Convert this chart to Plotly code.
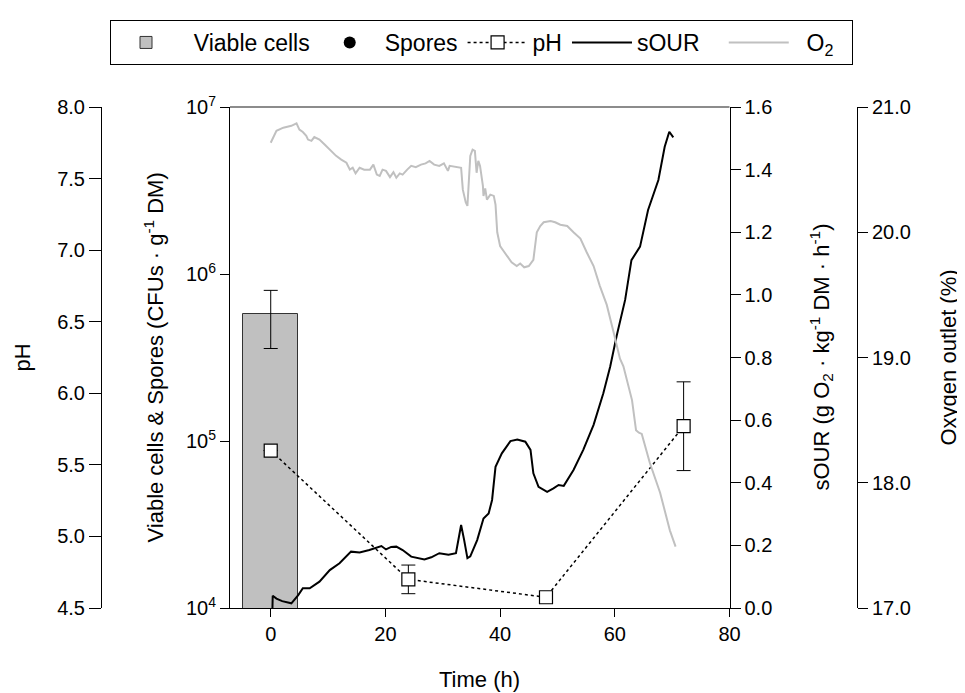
import plotly.graph_objects as go

# ---------------- data ----------------
bar_time = [0]
viable_cells = [5.78e5]
viable_err = [2.2e5]

spores_time = [None]
spores_values = [None]

ph_time = [0, 24, 48, 72]
ph_values = [5.60, 4.70, 4.575, 5.77]
ph_err = [None, 0.10, None, 0.31]

sour_time = [0.3, 0.35, 1.0, 2.0, 3.6, 4.8, 5.6, 6.8, 8.5, 10.3, 12.0, 14.0, 15.5, 17.2,
             19.3, 20.1, 21.0, 21.9, 23.0, 24.5, 26.8, 28.0, 29.4, 31.0, 32.3, 32.8, 33.2,
             33.7, 34.3, 34.8, 36.0, 37.1, 38.0, 38.6, 39.2, 40.3, 41.8, 43.0, 44.4, 45.3,
             45.8, 46.7, 48.2, 49.3, 50.2, 51.1, 52.8, 54.5, 56.3, 58.0, 59.2, 60.3, 61.8,
             62.9, 64.4, 65.8, 67.6, 68.7, 69.5, 70.2]
sour_values = [0.0, 0.039, 0.030, 0.022, 0.015, 0.041, 0.063, 0.063, 0.084, 0.121, 0.143,
               0.180, 0.177, 0.185, 0.198, 0.187, 0.195, 0.196, 0.185, 0.164, 0.155, 0.162,
               0.175, 0.170, 0.175, 0.220, 0.265, 0.220, 0.159, 0.165, 0.217, 0.286, 0.302,
               0.345, 0.451, 0.494, 0.533, 0.538, 0.531, 0.505, 0.430, 0.387, 0.371, 0.382,
               0.393, 0.390, 0.441, 0.505, 0.585, 0.686, 0.771, 0.867, 0.984, 1.111, 1.154,
               1.271, 1.367, 1.473, 1.521, 1.503]

o2_time = [0.0, 0.5, 1.0, 2.2, 3.6, 4.5, 5.0, 5.6, 6.2, 6.5, 7.1, 7.6, 8.5, 9.4, 10.3, 11.4,
           12.3, 13.2, 13.8, 14.3, 14.8, 15.5, 16.3, 17.3, 17.9, 18.5, 19.0, 19.5, 20.1, 20.8,
           21.4, 21.9, 22.5, 23.0, 23.8, 24.5, 25.3, 26.2, 27.0, 27.7, 28.5, 29.4, 30.2, 30.9,
           31.2, 32.2, 33.2, 33.5, 34.0, 34.3, 34.6, 34.8, 35.2, 35.6, 35.9, 36.2, 36.5, 37.0,
           37.1, 37.4, 37.7, 38.3, 38.9, 39.2, 39.5, 40.0, 40.6, 41.2, 42.0, 42.9, 43.5, 44.2,
           45.0, 45.8, 46.4, 47.0, 47.6, 48.8, 49.6, 50.5, 51.7, 52.8, 54.0, 55.1, 56.3, 57.4,
           58.6, 59.8, 60.9, 61.5, 62.4, 63.0, 63.7, 64.2, 64.7, 66.1, 67.9, 69.6, 70.6]
o2_values = [20.715, 20.77, 20.81, 20.835, 20.85, 20.87, 20.82, 20.80, 20.77, 20.74, 20.73,
             20.76, 20.74, 20.70, 20.66, 20.61, 20.58, 20.555, 20.50, 20.515, 20.47, 20.515,
             20.50, 20.50, 20.54, 20.46, 20.45, 20.50, 20.49, 20.44, 20.48, 20.435, 20.47,
             20.46, 20.50, 20.53, 20.52, 20.54, 20.55, 20.57, 20.54, 20.53, 20.55, 20.49,
             20.53, 20.52, 20.515, 20.34, 20.24, 20.21, 20.45, 20.61, 20.66, 20.65, 20.475,
             20.57, 20.53, 20.37, 20.29, 20.35, 20.26, 20.30, 20.29, 20.22, 20.00, 19.89,
             19.85, 19.81, 19.76, 19.73, 19.75, 19.72, 19.73, 19.78, 20.00, 20.05, 20.08,
             20.09, 20.08, 20.06, 20.05, 20.00, 19.95, 19.84, 19.73, 19.57, 19.42, 19.20,
             18.99, 18.93, 18.76, 18.66, 18.42, 18.40, 18.39, 18.16, 17.92, 17.62, 17.49]

x_ticks = [0, 20, 40, 60, 80]
log_ticks = [1e4, 1e5, 1e6, 1e7]
log_ticktext = ["10<sup>4</sup>", "10<sup>5</sup>", "10<sup>6</sup>", "10<sup>7</sup>"]

# ---------------- figure ----------------
# The page body has an 8px margin, so the figure is 8px smaller than the window
OFF = 8
FW, FH = 965 - OFF, 693 - OFF


def px(X):  # window pixel x -> paper fraction
    return (X - OFF) / FW


def py(Y):  # window pixel y -> paper fraction
    return 1 - (Y - OFF) / FH


FONT = "Liberation Sans, Arial, sans-serif"
NB = "\u00a0"

fig = go.Figure()

fig.add_trace(go.Bar(
    x=bar_time, y=viable_cells, width=9.5, name=NB * 2 + "Viable cells",
    marker=dict(color="#c0c0c0", line=dict(color="#333333", width=1)),
    error_y=dict(type="data", array=viable_err, color="black", thickness=1, width=7),
    yaxis="y",
))

fig.add_trace(go.Scatter(
    x=spores_time, y=spores_values, name="Spores", mode="markers",
    marker=dict(symbol="circle", color="black", size=12), yaxis="y",
))

fig.add_trace(go.Scatter(
    x=ph_time, y=ph_values, name="pH", mode="lines+markers",
    line=dict(color="black", width=1.5, dash="dot"),
    marker=dict(symbol="square", size=13, color="white", line=dict(color="black", width=1.2)),
    error_y=dict(type="data", array=ph_err, color="black", thickness=1, width=7),
    yaxis="y2",
))

fig.add_trace(go.Scatter(
    x=sour_time, y=sour_values, name="sOUR" + NB * 3, mode="lines",
    line=dict(color="black", width=2), yaxis="y3",
))

fig.add_trace(go.Scatter(
    x=o2_time, y=o2_values, name=NB * 2 + "O<sub>2</sub>" + NB * 2, mode="lines",
    line=dict(color="#c0c0c0", width=2), yaxis="y4",
))

axis_common = dict(showgrid=False, zeroline=False, showline=True, linecolor="black",
                   linewidth=1, ticks="outside", tickcolor="black", tickwidth=1,
                   automargin=False, tickfont=dict(size=20, color="black", family=FONT))

fig.update_layout(
    width=FW, height=FH, autosize=False,
    margin=dict(l=0, r=0, t=0, b=0, autoexpand=False),
    paper_bgcolor="white", plot_bgcolor="white",
    font=dict(family=FONT, size=20, color="black"),
    bargap=0,
    xaxis=dict(domain=[px(230), px(729.5)], range=[-7.1, 80], tickvals=x_ticks, ticklen=8,
               **axis_common),
    yaxis=dict(domain=[py(608), py(107)], type="log", range=[4, 7], tickvals=log_ticks,
               ticktext=log_ticktext, ticklen=9, anchor="x", **axis_common),
    yaxis2=dict(range=[4.5, 8.0], dtick=0.5, tick0=4.5, tickformat=".1f", ticklen=12,
                anchor="free", position=px(101), overlaying="y", side="left", **axis_common),
    yaxis3=dict(range=[0, 1.6], dtick=0.2, tick0=0, tickformat=".1f", ticklen=10,
                anchor="x", overlaying="y", side="right", **axis_common),
    yaxis4=dict(range=[17, 21], dtick=1, tick0=17, tickformat=".1f", ticklen=10,
                anchor="free", position=px(857), overlaying="y", side="right", **axis_common),
    legend=dict(orientation="h", x=px(110), y=py(20), xanchor="left", yanchor="top",
                bordercolor="black", borderwidth=1, bgcolor="white",
                font=dict(size=23, family=FONT, color="black"), itemwidth=60,
                traceorder="normal"),
    showlegend=True,
)

# top border of plot box
fig.add_shape(type="line", xref="x domain", yref="y domain", x0=0, x1=1, y0=1, y1=1,
              line=dict(color="#666666", width=1.5))

title_font = dict(size=22, family=FONT, color="black")
yc = py(357.5)
annots = [
    dict(text="pH", x=px(22), y=yc, textangle=-90),
    dict(text="Viable cells &amp; Spores (CFUs · g<sup>-1</sup> DM)", x=px(153), y=yc, textangle=-90),
    dict(text="sOUR (g O<sub>2</sub> · kg<sup>-1</sup> DM · h<sup>-1</sup>)", x=px(821), y=yc, textangle=-90),
    dict(text="Oxygen outlet (%)", x=px(948), y=yc, textangle=-90),
    dict(text="Time (h)", x=px(479.5), y=py(679), textangle=0),
]
for a in annots:
    fig.add_annotation(xref="paper", yref="paper", xanchor="center", yanchor="middle",
                       showarrow=False, font=title_font, **a)

fig.write_html("out.html")
